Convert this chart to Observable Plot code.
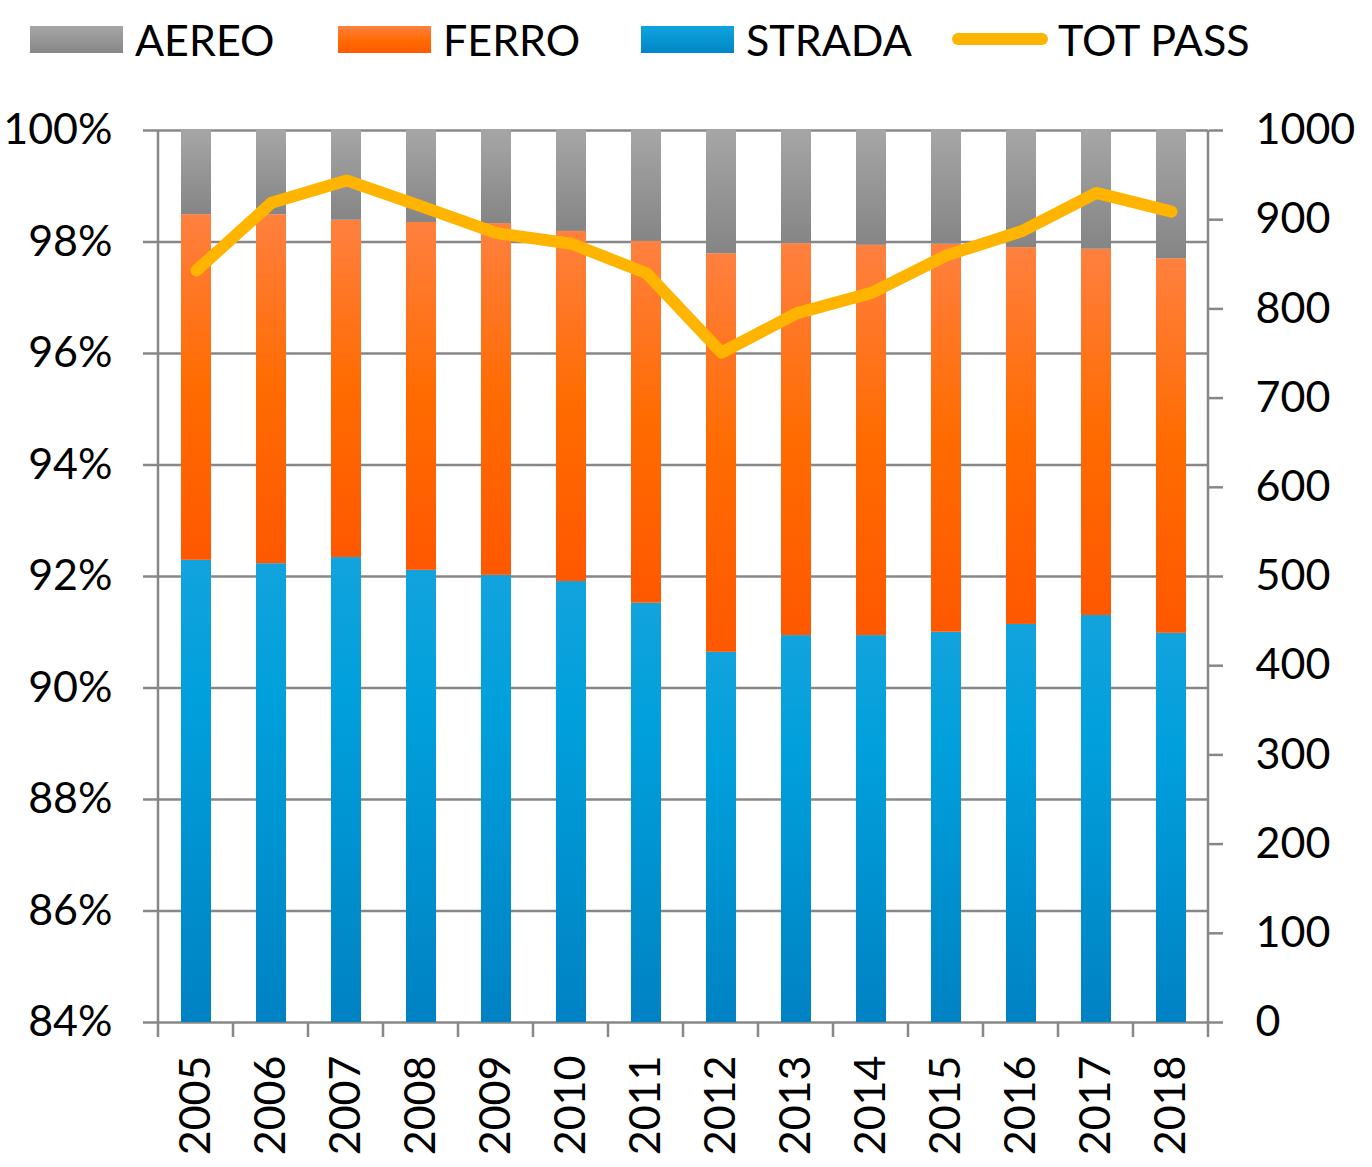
<!DOCTYPE html>
<html>
<head>
<meta charset="utf-8">
<script src="https://cdn.jsdelivr.net/npm/d3@7"></script>
<script src="https://cdn.jsdelivr.net/npm/@observablehq/plot@0.6"></script>
<style>
  body { margin: 0; background: #fff; font-family: Lato, "Open Sans", sans-serif; }
  #legend { position: relative; width: 1372px; height: 80px; }
  .item { position: absolute; top: 14px; height: 50px; display: flex; align-items: center; font-size: 43px; color: #000; }
  .sw { width: 93px; height: 27px; margin-right: 12px; }
  .ln { width: 96px; height: 12px; border-radius: 6px; background: #ffb400; margin-right: 10px; }
</style>
</head>
<body>
<div id="legend"></div>
<div id="chart"></div>
<script>
const years = ["2005","2006","2007","2008","2009","2010","2011","2012","2013","2014","2015","2016","2017","2018"];
const strada = [92.29, 92.23, 92.34, 92.11, 92.02, 91.91, 91.52, 90.64, 90.94, 90.94, 91.00, 91.14, 91.30, 90.98];
const ferro  = [6.20, 6.26, 6.05, 6.24, 6.31, 6.28, 6.49, 7.15, 7.03, 7.00, 6.96, 6.76, 6.57, 6.72];
const aereo  = [1.51, 1.51, 1.61, 1.65, 1.67, 1.81, 1.99, 2.21, 2.03, 2.06, 2.04, 2.10, 2.13, 2.30];
const totPass = [843, 919, 944, 915, 885, 873, 840, 751, 795, 818, 860, 887, 930, 909];
const leftTicks = [84, 86, 88, 90, 92, 94, 96, 98, 100];
const rightTicks = [0, 100, 200, 300, 400, 500, 600, 700, 800, 900, 1000];
const yMin = 84, yMax = 100, rMax = 1000;

const legendItems = [
  {label: "AEREO", kind: "bar", grad: "linear-gradient(#a6a6a6, #868686)", left: 30},
  {label: "FERRO", kind: "bar", grad: "linear-gradient(#ff8040, #ff6a00 55%, #ff5a00)", left: 338},
  {label: "STRADA", kind: "bar", grad: "linear-gradient(#10a4de, #0086c6)", left: 641},
  {label: "TOT PASS", kind: "line", left: 952}
];
const leg = document.getElementById("legend");
for (const it of legendItems) {
  const d = document.createElement("div");
  d.className = "item";
  d.style.left = it.left + "px";
  const s = document.createElement("div");
  if (it.kind === "bar") { s.className = "sw"; s.style.background = it.grad; }
  else s.className = "ln";
  d.appendChild(s);
  const t = document.createElement("span");
  t.textContent = it.label;
  d.appendChild(t);
  leg.appendChild(d);
}

const rows = years.map((y, i) => ({
  year: y,
  s0: yMin, s1: strada[i],
  f0: strada[i], f1: strada[i] + ferro[i],
  a0: strada[i] + ferro[i], a1: strada[i] + ferro[i] + aereo[i],
  pass: totPass[i]
}));
const toLeft = v => yMin + v / rMax * (yMax - yMin);
const ns = "http://www.w3.org/2000/svg";

function defs() {
  const d = document.createElementNS(ns, "defs");
  const grads = {
    gAereo: [["0%", "#a6a6a6"], ["100%", "#858585"]],
    gFerro: [["0%", "#ff803f"], ["50%", "#ff6b00"], ["100%", "#ff5800"]],
    gStrada: [["0%", "#12a3dd"], ["30%", "#00a0dc"], ["100%", "#0082c3"]]
  };
  for (const [id, stops] of Object.entries(grads)) {
    const g = document.createElementNS(ns, "linearGradient");
    g.setAttribute("id", id);
    g.setAttribute("x1", "0"); g.setAttribute("y1", "0");
    g.setAttribute("x2", "0"); g.setAttribute("y2", "1");
    for (const [o, c] of stops) {
      const st = document.createElementNS(ns, "stop");
      st.setAttribute("offset", o); st.setAttribute("stop-color", c);
      g.appendChild(st);
    }
    d.appendChild(g);
  }
  return d;
}

function frameLines(index, scales, values, dimensions) {
  const {width, height, marginLeft, marginRight, marginTop, marginBottom} = dimensions;
  const g = document.createElementNS(ns, "g");
  g.setAttribute("stroke", "#878787");
  g.setAttribute("stroke-width", "2.5");
  const add = (x1, y1, x2, y2) => {
    const l = document.createElementNS(ns, "line");
    l.setAttribute("x1", x1); l.setAttribute("y1", y1);
    l.setAttribute("x2", x2); l.setAttribute("y2", y2);
    g.appendChild(l);
  };
  const bottom = height - marginBottom;
  add(marginLeft, marginTop, marginLeft, bottom);
  add(width - marginRight, marginTop, width - marginRight, bottom);
  const step = (width - marginLeft - marginRight) / years.length;
  for (let i = 0; i <= years.length; i++) {
    const x = marginLeft + i * step;
    add(x, bottom, x, bottom + 15);
  }
  return g;
}

const chart = Plot.plot({
  width: 1372,
  height: 1087,
  marginTop: 50,
  marginBottom: 145,
  marginLeft: 158,
  marginRight: 164,
  style: {fontFamily: "Lato, 'Open Sans', sans-serif", fontSize: "43px", color: "#000", background: "#fff", overflow: "visible"},
  x: {domain: years, paddingInner: 0.6, paddingOuter: 0.3, label: null},
  y: {domain: [yMin, yMax], label: null},
  marks: [
    defs,
    Plot.gridY({ticks: leftTicks, stroke: "#878787", strokeOpacity: 1, strokeWidth: 2.5}),
    Plot.barY(rows, {x: "year", y1: "s0", y2: "s1", fill: "url(#gStrada)"}),
    Plot.barY(rows, {x: "year", y1: "f0", y2: "f1", fill: "url(#gFerro)"}),
    Plot.barY(rows, {x: "year", y1: "a0", y2: "a1", fill: "url(#gAereo)"}),
    Plot.axisY({anchor: "left", ticks: leftTicks, tickFormat: d => d + "%", tickSize: 15, tickPadding: 31, stroke: "#878787", strokeWidth: 2.5, fill: "#000", label: null}),
    Plot.axisY({anchor: "right", ticks: rightTicks.map(toLeft), tickFormat: d => String(Math.round((d - yMin) / (yMax - yMin) * rMax)), tickSize: 14, tickPadding: 33, stroke: "#878787", strokeWidth: 2.5, fill: "#000", label: null}),
    Plot.axisX({anchor: "bottom", tickRotate: -90, tickSize: 0, tickPadding: 33, fill: "#000", label: null}),
    frameLines,
    Plot.line(rows, {x: "year", y: d => toLeft(d.pass), stroke: "#ffb400", strokeWidth: 12, strokeLinejoin: "round", strokeLinecap: "round"})
  ]
});
document.getElementById("chart").appendChild(chart);
</script>
</body>
</html>
